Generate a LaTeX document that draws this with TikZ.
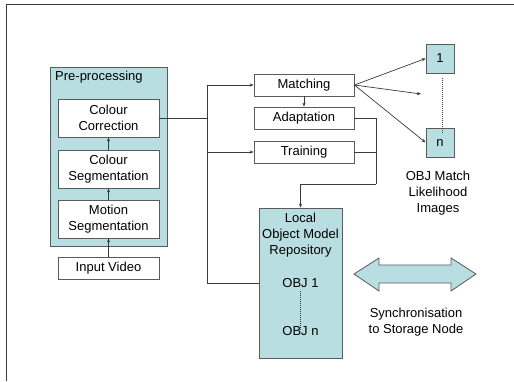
\documentclass[tikz,border=0pt]{standalone}
\usepackage{fontspec}
\setmainfont{Liberation Sans}
\usetikzlibrary{arrows.meta}
\definecolor{panelblue}{HTML}{B8DEE2}
\definecolor{edgegray}{HTML}{5A5A5A}
\definecolor{wiregray}{HTML}{3A3A3A}
\begin{document}
\begin{tikzpicture}[x=1pt,y=-1pt,
  txt/.style={font=\fontsize{13}{16}\selectfont, align=center, inner sep=0pt},
  whitebox/.style={txt, draw=edgegray, line width=0.8pt, fill=white},
  bluebox/.style={txt, draw=edgegray, line width=0.8pt, fill=panelblue},
  wire/.style={draw=wiregray, line width=0.7pt},
  arr/.style={wire, -{Stealth[length=4pt,width=3.2pt]}},
  dots/.style={draw=wiregray, line width=1pt, dash pattern=on 1pt off 1pt}]
\useasboundingbox (0,0) rectangle (514,381);
\fill[white] (0,0) rectangle (514,381);
% page frame
\draw[draw=wiregray, line width=1.2pt] (6.5,381) -- (6.5,4.5) -- (514,4.5);

% pre-processing panel
\node[bluebox, minimum width=117pt, minimum height=179pt] (pre) at (108.5,156.5) {};
\node[txt, anchor=west] (pretitle) at (55,77) {Pre-processing};
\node[whitebox, minimum width=101pt, minimum height=38pt] (cc) at (108.5,118) {Colour\\Correction};
\node[whitebox, minimum width=101pt, minimum height=38pt] (cs) at (108.5,169) {Colour\\Segmentation};
\node[whitebox, minimum width=101pt, minimum height=38pt] (ms) at (108.5,219) {Motion\\Segmentation};
\node[whitebox, minimum width=101pt, minimum height=22pt] (iv) at (108.5,268) {Input Video};

% processing stages
\node[whitebox, minimum width=100pt, minimum height=22pt] (match) at (304,85) {Matching};
\node[whitebox, minimum width=100pt, minimum height=22pt] (adapt) at (304,118) {Adaptation};
\node[whitebox, minimum width=100pt, minimum height=22pt] (train) at (304,152) {Training};

% repository
\node[bluebox, minimum width=83pt, minimum height=150pt] (repo) at (300.5,283) {};
\node[txt] (repotitle) at (300.5,235) {Local\\Object Model\\Repository};
\node[txt] (obj1) at (300.5,283) {OBJ 1};
\node[txt] (objn) at (300.5,331) {OBJ n};
\draw[dots] (obj1.south) ++(0,3) -- ([yshift=-3pt]objn.north);

% likelihood images
\node[bluebox, minimum width=28pt, minimum height=29pt] (img1) at (440,58.5) {1};
\node[bluebox, minimum width=28pt, minimum height=29pt] (imgn) at (440,142.5) {n};
\draw[dots] (img1.south) ++(2,5) -- ([xshift=2pt,yshift=-5pt]imgn.north);
\node[txt] (imglabel) at (438,193) {OBJ Match\\Likelihood\\Images};
\coordinate (imgmid) at (421,94);

% synchronisation arrow
\draw[draw=edgegray, line width=0.8pt, fill=panelblue]
  (354,274) -- (379,258) -- (379,265) -- (451,265) -- (451,258) -- (476,274)
  -- (451,291) -- (451,283) -- (379,283) -- (379,291) -- cycle;
\node[txt] (synclabel) at (416,322) {Synchronisation\\to Storage Node};

% connectors
\draw[arr] (iv.north) -- (ms.south);
\draw[arr] (ms.north) -- (cs.south);
\draw[arr] (cs.north) -- (cc.south);

\coordinate (jt) at (207,85);
\coordinate (jm) at (207,152);
\coordinate (jb) at (207,283);
\draw[wire] (cc.east) -- (cc.east -| jt);
\draw[wire] (jt) -- (jb);
\draw[arr] (jt) -- (match.west);
\draw[arr] (jm) -- (train.west);
\draw[wire] (jb) -- (repo.west);

\draw[arr] (match.south) -- (adapt.north);
\coordinate (fb) at (376,184);
\draw[wire] (adapt.east) -| (fb);
\draw[wire] (train.east) -- (train.east -| fb);
\draw[arr] (fb) -| (repo.north);

\draw[arr] (match.east) -- (img1.west);
\draw[arr] (match.east) -- (imgmid);
\draw[arr] (match.east) -- (imgn.west);
\end{tikzpicture}
\end{document}
